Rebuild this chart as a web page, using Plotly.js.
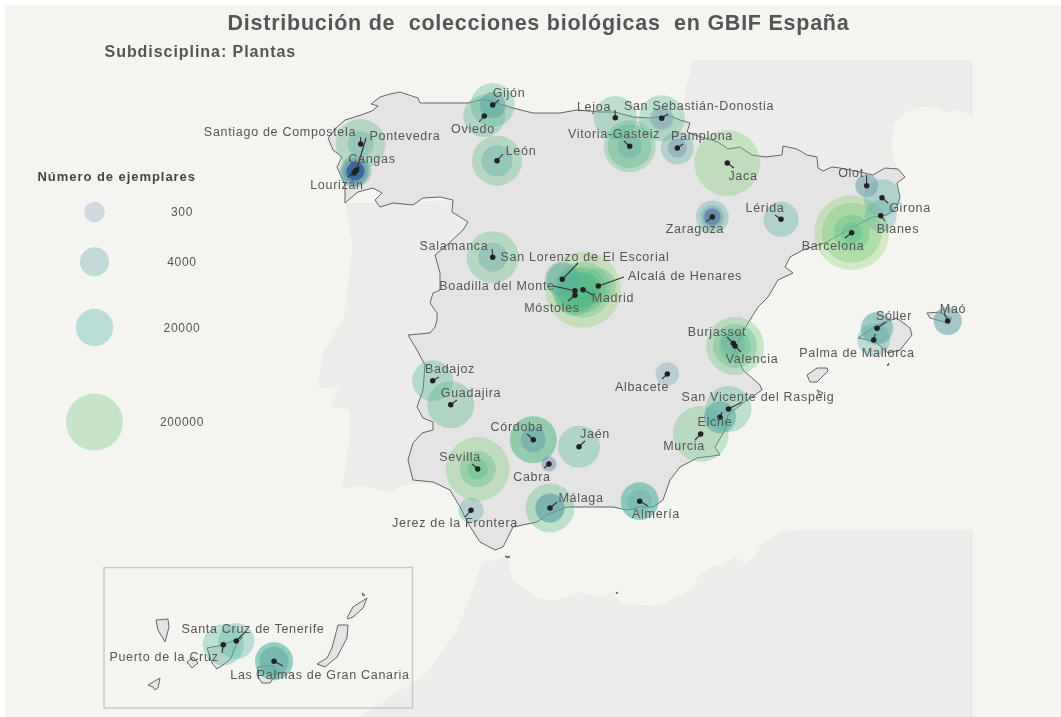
<!DOCTYPE html>
<html lang="es">
<head>
<meta charset="utf-8">
<title>Distribución de colecciones biológicas en GBIF España</title>
<script src="https://cdn.plot.ly/plotly-3.0.1.min.js"></script>
<style>
html,body{margin:0;padding:0;background:#fff;}
#chart{width:1061px;height:717px;filter:blur(0.45px);}
#chart .textpoint text{letter-spacing:0.7px;}
#chart .annotation-text{letter-spacing:0.95px;}
#chart .gtitle{letter-spacing:0.75px;}
</style>
</head>
<body>
<div id="chart"></div>
<script>
// Map outlines, in map units
var portugalX=[345,353,343,337,323,318,330,340,335,330,350,350,342,360,390,403,480,480];
var portugalY=[203,247,320,330,353,387,388,385,397,407,410,437,490,485,493,485,480,200];
var franceX=[693,973,973,960,945,935,920,905,895,892,892,900,860,680,683,685];
var franceY=[60,60,117,110,112,107,107,113,122,140,153,175,180,150,117,93];
var africaX=[520,535.5,553,572,582,598,613,620,634,658,675,694,698,715,723,734,744,754,761,782,796,973,973,360,390,427,457,470,482,507,513];
var africaY=[585,597,601,595,592,598,592,602,605,606,598,588,575,565,567,556,563,558,545,532,530,530,717,717,697,673,630,597,563,557,580];
var spainX=[345,345,337,342,333,328,337,345,358,372,378,371,380,390,400,410,418,420,467,473,483,493,513,533,560,577,600,615,633,650,668,680,690,687,695,718,728,740,752,765,782,783,797,807,817,818,823,832,840,860,873,885,898,905,897,900,897,887,873,853,827,803,790,785,793,778,768,758,745,735,743,760,762,743,728,725,715,720,697,680,670,663,653,640,627,613,567,547,537,513,503,495,480,468,460,450,433,413,408,413,422,433,433,423,417,423,425,417,408,430,435,437,437,430,433,440,440,435,447,463,468,457,452,453,440,423,413,393,380,375,382,373,358,345];
var spainY=[203,185,167,157,150,138,127,120,116,111,106,104,97,94,92,95,98,103,103,102,99,102,108,113,113,110,112,112,117,118,115,120,123,132,135,142,149,147,155,157,155,146,149,155,157,168,171,167,168,172,175,168,169,177,183,197,207,215,217,227,242,250,257,267,273,280,297,307,328,350,370,385,390,403,415,430,447,455,458,467,480,500,507,507,510,507,507,515,522,527,547,550,542,523,507,490,482,480,460,443,433,430,422,418,407,390,365,350,335,333,327,320,313,303,293,290,273,255,245,230,222,215,212,200,197,198,205,203,207,200,193,188,192,203];
var islandsX=[858,877,897,910,912,900,888,877,868,858,null,927,940,948,952,948,930,927,null,807,817,827,828,817,810,807,null,817,823,820,817,null,887,889,888,887,null,505,510,507,505,null,616,618,617,616,null,156,168,169,165,158,156,null,207,223,243,237,230,217,212,207,null,187,193,198,192,187,null,148,160,158,155,153,148,null,258,272,277,270,262,257,258,null,338,348,347,337,325,317,327,332,338,null,347,353,367,363,353,348,347,null,362,365,363,362];
var islandsY=[338,325,318,328,335,350,353,343,340,338,null,313,312,317,318,323,318,313,null,375,368,368,371,382,382,375,null,390,393,396,390,null,365,363,366,365,null,556,557,558,556,null,592,593,594,592,null,620,619,627,642,630,620,null,648,645,637,643,660,669,663,648,null,662,657,663,668,662,null,685,678,688,690,687,685,null,667,665,673,683,683,675,667,null,625,625,638,657,667,664,658,648,625,null,618,607,598,608,617,619,618,null,593,595,596,593];

// Collections
var cities=["Gijón","Oviedo","Santiago de Compostela","Pontevedra","Cangas","Lourizán","León","Salamanca","Vitoria-Gasteiz","Lejoa","San Sebastián-Donostia","Pamplona","Jaca","Zaragoza","Lérida","Olot","Girona","Blanes","Barcelona","Madrid","Alcalá de Henares","San Lorenzo de El Escorial","Boadilla del Monte","Móstoles","Burjassot","Valencia","Sóller","Palma de Mallorca","Maó","Badajoz","Guadajira","Córdoba","Jaén","Cabra","Sevilla","Málaga","Jerez de la Frontera","Almería","Albacete","Murcia","Elche","San Vicente del Raspeig","Santa Cruz de Tenerife","Puerto de la Cruz","Las Palmas de Gran Canaria"];
var cityX=[492.7,484.3,360.7,356.5,354,355.7,497,492.7,629.7,615.3,661.7,677.3,727.3,712.3,781,866.7,882,880.7,851.7,583,598.3,562.3,575,575,733.3,735,877,873.7,947.7,432.7,450.7,533.3,579,549,477.7,550,471,639.7,667.3,700.7,720,728.5,236.3,223.3,274];
var cityY=[105,116,144,170,173,171,160.7,257.3,146.3,117.7,118.3,148,163,217,219.3,185.7,197.7,215.7,232.7,289.7,286,279.3,290.7,295.3,343.3,346,328.3,340,321,380.7,404.7,439.7,446.7,464,469,508,510.3,501.3,374,434,417.3,409,641,644.7,661.3];
var collections=[[48500,1750,1750],[37700],[97600,1750],[954,347],[3065,954,100],[7460,3065,954,347,100,100,100,85,85],[97600,6100],[121000,4000],[121000,48500,954],[45000],[62000,954,300],[9070,163],[444000],[9070,1000,163,44],[13200],[691,600],[18700],[7460],[894000,264000,15700,300],[960000,181000,62000,13200,13200],[13200],[13200,7460],[62000,13200],[33000,7460],[954],[219000,48500,7000],[9070,6100],[9070],[3065,3065],[33000],[69600],[69600,69600,1300,1000],[37700],[27],[375000,15700,300],[87000,4000,4000,4000],[1300],[21800,21800,954],[800],[181000],[7460,7460],[62000],[15700],[33000],[21800,21800,5000,3000]];
var greenCoreCities=["Barcelona","Madrid","Alcalá de Henares","Boadilla del Monte","Móstoles","Valencia","Sevilla"];
var labelX=[509,473,280,405,372,337,521,454,614,594,699,702,743,851,910,898,833,613,685,585,497,552,717,752,894,857,953,450,471,517,595,532,460,581,455,656,642,684,715,758,253,164,320];
var labelY=[93,129,132,136,159,185,151,246,134,107,106,136,176,173,208,229,246,298,276,257,286,308,332,359,316,353,309,369,393,427,434,477,457,498,523,514,387,446,422,397,629,657,675];
var labelCities=["Gijón","Oviedo","Santiago de Compostela","Pontevedra","Cangas","Lourizán","León","Salamanca","Vitoria-Gasteiz","Lejoa","San Sebastián-Donostia","Pamplona","Jaca","Olot","Girona","Blanes","Barcelona","Madrid","Alcalá de Henares","San Lorenzo de El Escorial","Boadilla del Monte","Móstoles","Burjassot","Valencia","Sóller","Palma de Mallorca","Maó","Badajoz","Guadajira","Córdoba","Jaén","Cabra","Sevilla","Málaga","Jerez de la Frontera","Almería","Albacete","Murcia","Elche","San Vicente del Raspeig","Santa Cruz de Tenerife","Puerto de la Cruz","Las Palmas de Gran Canaria"];
var extraLabels=["Zaragoza","Lérida"], extraLabelX=[695,765], extraLabelY=[229,208];
var leaderX=[499,479,360.5,366,360,348,503,492,624,615,668,683,734,706,775,866.5,888,885,845,593,624,578,553,568,727,741,886,875,944,439,457,527,585,544,472,557,465,648,662,695,722,742,246,222,283];
var leaderY=[100,122,137,138,167,177,154,249,141,110,114,144,168,222,215,175,203,221,238,295,277,263,286,301,337,352,322,334,313,377,400,434,441,468,464,502,517,506,379,440,412,402,631,653,666];

// Size legend
var legendTitle="Número de ejemplares";
var legendValues=[300,4000,20000,200000];
var legendX=[94.5,94.5,94.5,94.5];
var legendY=[212,261.7,327.5,422];
var legendTextX=[182,182,182,182];
var legendLabels=["300","4000","20000","200000"];

// value to diameter, log-log through the legend's four circles
var anchorV=[300,4000,20000,200000], anchorR=[10.3,14.5,18.7,28.5];
function diameter(v){
  var i=v<4000?0:(v<20000?1:2);
  var b=Math.log(anchorR[i+1]/anchorR[i])/Math.log(anchorV[i+1]/anchorV[i]);
  return 2*anchorR[i]*Math.pow(v/anchorV[i],b);
}
var scale=[[0,"rgb(125,105,175)"],[0.16,"rgb(30,85,150)"],[0.29,"rgb(141,163,191)"],[0.42,"rgb(95,165,165)"],[0.51,"rgb(101,166,168)"],[0.65,"rgb(75,180,160)"],[0.75,"rgb(85,185,135)"],[0.85,"rgb(110,200,123)"],[1,"rgb(150,215,110)"]];
var cmin=1, cmax=6.1, coreTone=cmin+0.75*(cmax-cmin);

var ringX=[],ringY=[],ringV=[],ringText=[],ringTone=[];
cities.forEach(function(c,i){collections[i].forEach(function(v){
  ringX.push(cityX[i]);ringY.push(cityY[i]);ringV.push(v);ringText.push(c);
  ringTone.push(greenCoreCities.indexOf(c)>=0&&v<100000?coreTone:Math.log10(v));
});});
var order=ringV.map(function(v,i){return i;}).sort(function(a,b){return ringV[b]-ringV[a];});
function pick(a){return order.map(function(i){return a[i];});}
var oV=pick(ringV);

var lx=[],ly=[];
cities.forEach(function(c,i){lx.push(cityX[i],leaderX[i],null);ly.push(cityY[i],leaderY[i],null);});
function nudge(a){return a.map(function(y){return y+1;});}

var land={type:"scatter",mode:"none",fill:"toself",fillcolor:"#ecedeb",hoverinfo:"skip"};
var traces=[
  Object.assign({x:portugalX,y:portugalY},land),
  Object.assign({x:franceX,y:franceY},land),
  Object.assign({x:africaX,y:africaY},land),
  {type:"scatter",mode:"lines",x:spainX,y:spainY,fill:"toself",fillcolor:"#e4e4e4",line:{color:"#666",width:1},hoverinfo:"skip"},
  {type:"scatter",mode:"lines",x:islandsX,y:islandsY,fill:"toself",fillcolor:"#e4e4e4",line:{color:"#666",width:1},hoverinfo:"skip",connectgaps:false},
  {type:"scatter",mode:"markers",x:pick(ringX),y:pick(ringY),text:pick(ringText),customdata:oV,hovertemplate:"%{text}: %{customdata}<extra></extra>",
   marker:{size:oV.map(diameter),sizemode:"diameter",opacity:0.35,line:{width:0},color:pick(ringTone),colorscale:scale,cmin:cmin,cmax:cmax,showscale:false}},
  {type:"scatter",mode:"lines",x:lx,y:ly,line:{color:"#333",width:1.1},hoverinfo:"skip"},
  {type:"scatter",mode:"markers",x:cityX,y:cityY,marker:{size:5.5,color:"#222"},text:cities,hoverinfo:"text"},
  {type:"scatter",mode:"text",x:labelX.concat(extraLabelX),y:nudge(labelY.concat(extraLabelY)),text:labelCities.concat(extraLabels),textposition:"middle center",textfont:{family:"Liberation Sans, Arial, sans-serif",size:12.5,color:"#555"},hoverinfo:"skip"},
  {type:"scatter",mode:"markers",x:legendX,y:legendY,hoverinfo:"skip",
   marker:{size:legendValues.map(diameter),sizemode:"diameter",opacity:0.35,line:{width:0},color:legendValues.map(function(v){return Math.log10(v);}),colorscale:scale,cmin:cmin,cmax:cmax,showscale:false}},
  {type:"scatter",mode:"text",x:legendTextX,y:nudge(legendY),text:legendLabels,textposition:"middle center",textfont:{family:"Liberation Sans, Arial, sans-serif",size:12,color:"#555"},hoverinfo:"skip"}
];

var layout={
  width:1061,height:717,margin:{l:0,r:0,t:0,b:0},showlegend:false,
  paper_bgcolor:"#ffffff",plot_bgcolor:"#ffffff",
  xaxis:{range:[0,1061],visible:false,fixedrange:true},
  yaxis:{range:[717,0],visible:false,fixedrange:true},
  title:{text:"Distribución de  colecciones biológicas  en GBIF España",x:538.5/1061,xref:"paper",xanchor:"center",y:0.968,yanchor:"middle",font:{family:"Liberation Sans, Arial, sans-serif",size:21.5,color:"#555",weight:700}},
  shapes:[
    {type:"rect",layer:"below",xref:"x",yref:"y",x0:5,x1:1061,y0:5,y1:717,fillcolor:"#f4f5f1",line:{width:0}},
    {type:"rect",layer:"above",xref:"x",yref:"y",x0:104,x1:412.5,y0:567.5,y1:708,fillcolor:"rgba(0,0,0,0)",line:{color:"#c8c8c8",width:1.5}}
  ],
  annotations:[
    {xref:"x",yref:"y",x:112.5,y:51,xanchor:"left",yanchor:"middle",showarrow:false,text:"<b>Subdisciplina: Plantas</b>",font:{family:"Liberation Sans, Arial, sans-serif",size:16,color:"#555"}},
    {xref:"x",yref:"y",x:44.5,y:176,xanchor:"left",yanchor:"middle",showarrow:false,text:"<b>"+legendTitle+"</b>",font:{family:"Liberation Sans, Arial, sans-serif",size:13,color:"#444"}}
  ]
};
Plotly.newPlot("chart",traces,layout,{displayModeBar:false,responsive:false});
</script>
</body>
</html>
